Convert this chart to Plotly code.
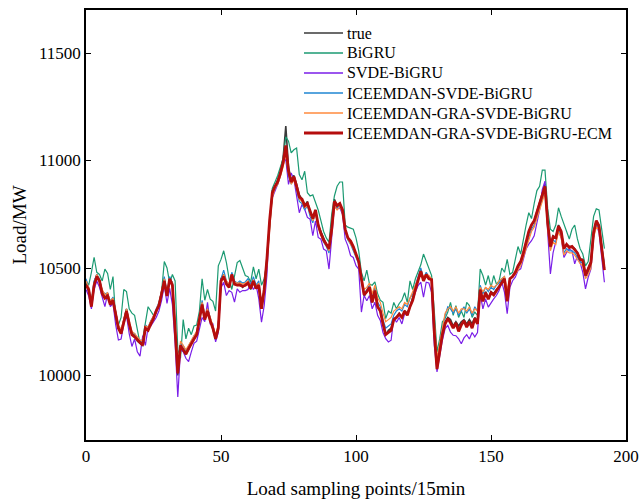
import plotly.graph_objects as go

x_points = list(range(193))

true_load = [
    10430, 10390, 10330, 10430, 10470, 10440, 10390, 10360, 10380, 10330,
    10360, 10290, 10220, 10200, 10260, 10310, 10240, 10190, 10190, 10160,
    10150, 10140, 10220, 10210, 10250, 10270, 10300, 10330, 10390, 10450,
    10370, 10450, 10430, 10210, 10000, 10140, 10120, 10100, 10120, 10150,
    10170, 10190, 10260, 10330, 10260, 10310, 10260, 10220, 10170, 10220,
    10450, 10470, 10430, 10410, 10470, 10430, 10420, 10430, 10410, 10420,
    10430, 10400, 10440, 10410, 10420, 10310, 10400, 10550, 10730, 10860,
    10880, 10910, 10950, 11010, 11160, 10970, 10910, 10930, 10890, 10840,
    10820, 10790, 10810, 10760, 10730, 10770, 10700, 10670, 10640, 10610,
    10590, 10690, 10820, 10790, 10800, 10770, 10680, 10640, 10620, 10600,
    10560, 10530, 10450, 10370, 10390, 10410, 10340, 10390, 10320, 10300,
    10240, 10190, 10210, 10220, 10260, 10270, 10290, 10270, 10300, 10290,
    10320, 10360, 10400, 10440, 10490, 10440, 10470, 10450, 10450, 10190,
    10040, 10120, 10200, 10250, 10270, 10260, 10230, 10250, 10230, 10250,
    10260, 10240, 10260, 10240, 10270, 10250, 10400, 10350, 10390, 10360,
    10390, 10380, 10400, 10410, 10440, 10450, 10350, 10450, 10460, 10480,
    10510, 10530, 10570, 10620, 10670, 10700, 10720, 10760, 10800, 10840,
    10890, 10710, 10600, 10650, 10640, 10700, 10670, 10590, 10610, 10600,
    10600, 10590, 10570, 10540, 10540, 10470, 10500, 10530, 10670, 10720,
    10700, 10600, 10500,
]

bigru = [
    10440, 10420, 10480, 10550, 10480, 10470, 10440, 10495, 10475, 10400,
    10460, 10260, 10235, 10270, 10400, 10390, 10310, 10290, 10280, 10220,
    10150, 10170, 10240, 10320, 10300, 10280, 10290, 10330, 10390, 10530,
    10500, 10430, 10470, 10440, 10120, 10080, 10260, 10170, 10220, 10190,
    10230, 10235, 10300, 10450, 10350, 10400, 10355, 10345, 10300, 10510,
    10540, 10580, 10525, 10450, 10400, 10465, 10525, 10535, 10495, 10465,
    10460, 10435, 10505, 10450, 10495, 10420, 10450, 10530, 10700, 10870,
    10900, 10930, 10970, 11010, 11110, 11090, 11035, 11050, 11058, 10935,
    10910, 10950, 10850, 10835, 10840, 10805, 10770, 10720, 10670, 10640,
    10620, 10750, 10835, 10880, 10900, 10900, 10700, 10690, 10685, 10680,
    10640, 10580, 10480, 10440, 10490, 10425, 10420, 10435, 10380, 10350,
    10340, 10265, 10300, 10290, 10340, 10310, 10335, 10350, 10385, 10340,
    10440, 10400, 10450, 10480, 10515, 10565, 10530, 10490, 10465, 10300,
    10110, 10170, 10250, 10265, 10295, 10340, 10280, 10325, 10270, 10300,
    10270, 10340, 10325, 10270, 10295, 10280, 10495, 10465, 10420, 10465,
    10410, 10465, 10425, 10440, 10500, 10480, 10540, 10470, 10480, 10540,
    10600, 10565, 10640, 10700, 10757, 10730, 10800, 10860, 10880, 10955,
    10955, 10775, 10680, 10670, 10700, 10780, 10740, 10705, 10665, 10635,
    10680, 10700, 10635, 10590, 10565, 10510, 10530, 10640, 10740, 10775,
    10770, 10680, 10590,
]

svde_bigru = [
    10400, 10370, 10310, 10400, 10440, 10410, 10365, 10320, 10380, 10320,
    10335, 10235, 10165, 10170, 10240, 10280, 10195, 10135, 10170, 10110,
    10090, 10185, 10140, 10225, 10230, 10250, 10270, 10300, 10350, 10420,
    10335, 10405, 10330, 10150, 9900, 10120, 10110, 10080, 10065, 10110,
    10150, 10160, 10220, 10270, 10250, 10340, 10240, 10240, 10156, 10200,
    10410, 10433, 10372, 10395, 10387, 10341, 10403, 10387, 10395, 10395,
    10400, 10433, 10400, 10420, 10356, 10248, 10325, 10465, 10727, 10827,
    10858, 10889, 10935, 10989, 11005, 10889, 10942, 10912, 10835, 10757,
    10796, 10773, 10735, 10727, 10650, 10719, 10642, 10634, 10588, 10580,
    10495, 10650, 10788, 10773, 10780, 10750, 10634, 10603, 10557, 10549,
    10511, 10495, 10295, 10372, 10348, 10372, 10310, 10341, 10280, 10256,
    10200, 10171, 10156, 10164, 10270, 10248, 10270, 10240, 10287, 10290,
    10318, 10348, 10387, 10418, 10434, 10364, 10434, 10430, 10387, 10140,
    10017, 10094, 10164, 10218, 10233, 10202, 10187, 10185, 10171, 10148,
    10175, 10190, 10170, 10200, 10180, 10200, 10380, 10310, 10356, 10318,
    10340, 10356, 10372, 10395, 10434, 10387, 10287, 10410, 10441, 10457,
    10488, 10496, 10542, 10588, 10611, 10627, 10650, 10705, 10770, 10866,
    10904, 10665, 10472, 10572, 10627, 10673, 10642, 10549, 10572, 10588,
    10580, 10519, 10557, 10526, 10480, 10403, 10457, 10495, 10642, 10704,
    10665, 10542, 10434,
]

iceemdan_svde_bigru = [
    10450, 10410, 10340, 10440, 10470, 10450, 10395, 10380, 10385, 10345,
    10365, 10290, 10230, 10210, 10260, 10310, 10250, 10200, 10195, 10175,
    10165, 10150, 10235, 10225, 10255, 10275, 10310, 10340, 10390, 10460,
    10385, 10460, 10430, 10220, 10020, 10150, 10140, 10115, 10140, 10160,
    10185, 10200, 10275, 10350, 10275, 10310, 10270, 10230, 10180, 10235,
    10450, 10490, 10440, 10420, 10480, 10440, 10430, 10440, 10430, 10435,
    10450, 10420, 10460, 10420, 10440, 10330, 10390, 10530, 10710, 10840,
    10870, 10890, 10930, 10980, 11040, 10930, 10890, 10920, 10870, 10810,
    10800, 10770, 10790, 10740, 10710, 10760, 10690, 10650, 10620, 10600,
    10570, 10670, 10800, 10780, 10790, 10760, 10670, 10630, 10610, 10580,
    10550, 10520, 10440, 10380, 10400, 10420, 10360, 10410, 10340, 10320,
    10260, 10220, 10230, 10240, 10280, 10300, 10310, 10300, 10330, 10320,
    10360, 10380, 10420, 10460, 10500, 10450, 10480, 10460, 10450, 10220,
    10060, 10130, 10220, 10280, 10320, 10310, 10290, 10310, 10280, 10300,
    10320, 10290, 10310, 10280, 10320, 10300, 10420, 10380, 10410, 10390,
    10410, 10400, 10420, 10430, 10450, 10460, 10380, 10450, 10460, 10480,
    10500, 10520, 10560, 10600, 10650, 10680, 10700, 10740, 10780, 10830,
    10860, 10690, 10590, 10630, 10620, 10680, 10650, 10570, 10590, 10580,
    10580, 10570, 10550, 10530, 10520, 10460, 10480, 10510, 10650, 10700,
    10690, 10610, 10520,
]

iceemdan_gra_svde_bigru = [
    10440, 10410, 10340, 10430, 10470, 10445, 10400, 10375, 10385, 10345,
    10360, 10290, 10235, 10215, 10260, 10310, 10255, 10205, 10195, 10180,
    10165, 10160, 10230, 10225, 10250, 10275, 10305, 10335, 10390, 10450,
    10380, 10450, 10430, 10230, 10040, 10160, 10140, 10120, 10140, 10165,
    10185, 10205, 10270, 10340, 10280, 10310, 10270, 10235, 10190, 10235,
    10440, 10470, 10440, 10425, 10470, 10435, 10430, 10430, 10425, 10430,
    10440, 10415, 10445, 10415, 10430, 10330, 10380, 10520, 10700, 10830,
    10870, 10890, 10925, 10970, 11030, 10940, 10890, 10910, 10870, 10820,
    10810, 10780, 10790, 10750, 10720, 10755, 10695, 10655, 10625, 10605,
    10580, 10660, 10790, 10770, 10785, 10760, 10670, 10635, 10615, 10590,
    10555, 10530, 10460, 10400, 10410, 10430, 10380, 10420, 10360, 10340,
    10290, 10250, 10260, 10270, 10300, 10310, 10320, 10310, 10340, 10330,
    10360, 10390, 10420, 10450, 10480, 10460, 10470, 10465, 10450, 10250,
    10080, 10150, 10230, 10290, 10310, 10320, 10300, 10320, 10290, 10310,
    10310, 10300, 10320, 10290, 10310, 10300, 10410, 10390, 10410, 10400,
    10420, 10410, 10420, 10440, 10450, 10460, 10400, 10450, 10460, 10470,
    10490, 10510, 10550, 10590, 10640, 10670, 10690, 10730, 10770, 10820,
    10850, 10680, 10580, 10620, 10610, 10670, 10640, 10560, 10580, 10570,
    10570, 10560, 10540, 10520, 10510, 10450, 10470, 10500, 10640, 10690,
    10680, 10600, 10510,
]

ecm = [
    10420, 10400, 10320, 10420, 10460, 10440, 10380, 10360, 10370, 10330,
    10350, 10280, 10220, 10195, 10250, 10300, 10240, 10190, 10180, 10165,
    10150, 10140, 10220, 10210, 10240, 10265, 10300, 10325, 10380, 10440,
    10370, 10450, 10420, 10200, 10010, 10140, 10120, 10100, 10125, 10150,
    10170, 10190, 10260, 10330, 10260, 10300, 10255, 10220, 10170, 10220,
    10440, 10460, 10425, 10410, 10470, 10425, 10420, 10420, 10415, 10420,
    10430, 10405, 10440, 10405, 10420, 10310, 10400, 10540, 10720, 10850,
    10880, 10900, 10940, 10990, 11070, 10950, 10900, 10925, 10880, 10830,
    10820, 10790, 10800, 10760, 10730, 10770, 10700, 10660, 10630, 10610,
    10590, 10680, 10810, 10790, 10800, 10770, 10680, 10640, 10625, 10600,
    10560, 10530, 10450, 10375, 10390, 10410, 10340, 10395, 10320, 10300,
    10240, 10190, 10200, 10210, 10260, 10270, 10285, 10270, 10300, 10280,
    10320, 10350, 10400, 10440, 10485, 10440, 10470, 10450, 10445, 10200,
    10030, 10110, 10190, 10240, 10265, 10245, 10220, 10245, 10205, 10235,
    10255, 10225, 10250, 10220, 10265, 10240, 10400, 10345, 10385, 10355,
    10385, 10375, 10395, 10410, 10435, 10450, 10345, 10450, 10460, 10480,
    10510, 10530, 10570, 10620, 10670, 10700, 10720, 10760, 10800, 10840,
    10880, 10710, 10600, 10645, 10640, 10695, 10670, 10590, 10610, 10595,
    10600, 10585, 10570, 10540, 10535, 10465, 10495, 10525, 10665, 10720,
    10695, 10600, 10490,
]

series_names = [
    "true", "BiGRU", "SVDE-BiGRU", "ICEEMDAN-SVDE-BiGRU",
    "ICEEMDAN-GRA-SVDE-BiGRU", "ICEEMDAN-GRA-SVDE-BiGRU-ECM",
]
series_values = [
    true_load, bigru, svde_bigru, iceemdan_svde_bigru,
    iceemdan_gra_svde_bigru, ecm,
]
series_colors = ["#3a3a3a", "#1b9a72", "#7a1ee8", "#1f86d2", "#ff8a3d", "#b50d0d"]
series_widths = [1.6, 1.2, 1.2, 1.2, 1.2, 2.8]

y_tick_vals = [10000, 10500, 11000, 11500]
y_tick_text = ["10000", "10500", "11000", "11500"]
x_tick_vals = [0, 50, 100, 150, 200]
x_tick_text = ["0", "50", "100", "150", "200"]

# plot area in pixels (for placing the hand-built legend)
PL, PR, PT, PB = 86, 626, 10, 440

def px_x(p):
    return (p - PL) / (PR - PL)

def px_y(p):
    return (PB - p) / (PB - PT)

fig = go.Figure()
for name, vals, color, w in zip(series_names, series_values, series_colors, series_widths):
    fig.add_trace(go.Scatter(
        x=x_points, y=vals, mode="lines", name=name,
        line=dict(color=color, width=w), showlegend=False,
    ))

font_family = "Liberation Serif, Times New Roman, serif"

# legend: line samples + text, rows 20 px apart
legend_rows = [33, 53, 73, 93, 113, 133]
shapes = []
annotations = []
for row, name, color, w in zip(legend_rows, series_names, series_colors, series_widths):
    shapes.append(dict(
        type="line", xref="paper", yref="paper",
        x0=px_x(304), x1=px_x(343), y0=px_y(row), y1=px_y(row),
        line=dict(color=color, width=max(w, 1.5)),
    ))
    annotations.append(dict(
        xref="paper", yref="paper", x=px_x(345), y=px_y(row),
        xanchor="left", yanchor="middle", showarrow=False,
        text=name, font=dict(family=font_family, size=16, color="black"),
    ))

fig.update_layout(
    width=639, height=502,
    margin=dict(l=PL, r=639 - PR, t=PT, b=502 - PB, autoexpand=False),
    paper_bgcolor="white", plot_bgcolor="white",
    font=dict(family=font_family, size=17, color="black"),
    showlegend=False,
    shapes=shapes,
    annotations=annotations,
)
fig.update_xaxes(
    range=[0, 200], tickvals=x_tick_vals, ticktext=x_tick_text,
    automargin=False,
    showline=True, linecolor="black", linewidth=1.5, mirror="ticks",
    ticks="inside", ticklen=5, tickwidth=1.3, tickcolor="black",
    showgrid=False, zeroline=False,
    title=dict(text="Load sampling points/15min", font=dict(size=19), standoff=17),
    tickfont=dict(size=17),
)
fig.update_yaxes(
    range=[9700, 11700], tickvals=y_tick_vals, ticktext=y_tick_text,
    automargin=False,
    showline=True, linecolor="black", linewidth=1.5, mirror="ticks",
    ticks="inside", ticklen=5, tickwidth=1.3, tickcolor="black",
    showgrid=False, zeroline=False,
    title=dict(text="Load/MW", font=dict(size=19), standoff=7),
    tickfont=dict(size=17),
)

fig.write_html(
    "out.html",
    config={"displayModeBar": False},
    post_script="document.body.style.margin='0';document.body.style.padding='0';document.body.style.overflow='hidden';",
)
